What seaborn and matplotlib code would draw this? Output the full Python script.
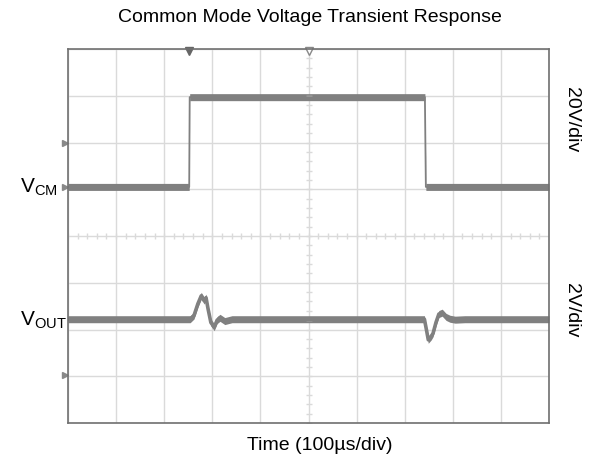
import numpy as np
import pandas as pd
import matplotlib
matplotlib.use("Agg")
import matplotlib.pyplot as plt
import seaborn as sns

# Scope screen in divisions: 10 across, 8 high
n_xdiv = 10
n_ydiv = 8

# Common mode input step (ch1, 20V/div)
vcm_time = [0.0, 2.52, 2.53, 7.42, 7.44, 10.0]
vcm_level = [5.05, 5.05, 6.97, 6.97, 5.05, 5.05]

# Output response (ch2, 2V/div)
vout_time = [0.0, 2.54, 2.62, 2.70, 2.77, 2.83, 2.87, 2.91, 2.97, 3.04, 3.10, 3.16,
             3.26, 3.41, 7.41, 7.46, 7.49, 7.55, 7.59, 7.65, 7.71, 7.78, 7.86,
             7.94, 8.05, 8.25, 10.0]
vout_level = [2.22, 2.22, 2.30, 2.55, 2.72, 2.62, 2.68, 2.45, 2.15, 2.05, 2.20, 2.25,
              2.18, 2.22, 2.22, 1.95, 1.78, 1.85, 1.92, 2.15, 2.33, 2.36, 2.27,
              2.23, 2.21, 2.22, 2.22]

trace_color = "#808080"
grid_color = "#dadada"
band = 0.075  # half thickness of the noisy trace, in divisions

sns.set_style("white")
plt.rcParams["font.family"] = ["Liberation Sans", "DejaVu Sans"]
plt.rcParams["text.color"] = "black"
plt.rcParams["mathtext.fontset"] = "custom"
plt.rcParams["mathtext.rm"] = "Liberation Sans"

fig = plt.figure(figsize=(5.93, 4.74), dpi=100)
ax = fig.add_axes([68 / 593, 1 - 423 / 474, 481 / 593, 374 / 474])

# graticule
ax.set_xlim(0, n_xdiv)
ax.set_ylim(0, n_ydiv)
ax.set_xticks(range(n_xdiv + 1))
ax.set_yticks(range(n_ydiv + 1))
ax.tick_params(length=0, labelbottom=False, labelleft=False)
ax.grid(True, color=grid_color, lw=1.0)
fine_x = np.arange(0, n_xdiv, 0.2)
fine_y = np.arange(0, n_ydiv, 0.2)
ax.plot(fine_x, np.full_like(fine_x, n_ydiv / 2), ls="none", marker="|",
        ms=5, color=grid_color, mew=1)
ax.plot(np.full_like(fine_y, n_xdiv / 2), fine_y, ls="none", marker="_",
        ms=5, color=grid_color, mew=1)
for s in ax.spines.values():
    s.set_color("#707070")
    s.set_linewidth(1.2)

# traces (noise band + centre line)
df_cm = pd.DataFrame({"t": vcm_time, "v": vcm_level})
df_out = pd.DataFrame({"t": vout_time, "v": vout_level})
for df, lw in ((df_cm, 1.3), (df_out, 2.6)):
    ax.fill_between(df["t"], df["v"] - band, df["v"] + band, color=trace_color, lw=0)
    sns.lineplot(data=df, x="t", y="v", ax=ax, color=trace_color, lw=lw,
                 sort=False, estimator=None)
ax.set_xlabel("")
ax.set_ylabel("")

# scope markers
ax.plot([vcm_time[1]], [n_ydiv - 0.05], marker="v", ms=6, color="#666666",
        clip_on=False, ls="none")
ax.plot([n_xdiv / 2], [n_ydiv - 0.05], marker="v", ms=6, mfc="white",
        mec="#888888", clip_on=False, ls="none")
ax.plot([-0.06, -0.06, -0.06], [6.0, vcm_level[0], 1.03], marker=">", ms=5,
        color="#888888", clip_on=False, ls="none")

# labels
fig.text(0.522, 1 - 18 / 474, "Common Mode Voltage Transient Response",
         ha="center", va="center", fontsize=14)
fig.text(0.540, 1 - 445 / 474, "Time (100µs/div)", ha="center", va="center",
         fontsize=14)
fig.text(20 / 593, 1 - 187 / 474, r"V$_{\mathrm{CM}}$", ha="left", va="center",
         fontsize=15)
fig.text(20 / 593, 1 - 320 / 474, r"V$_{\mathrm{OUT}}$", ha="left", va="center",
         fontsize=15)
fig.text(571 / 593, 1 - 120 / 474, "20V/div", ha="center", va="center",
         rotation=270, fontsize=14)
fig.text(571 / 593, 1 - 310 / 474, "2V/div", ha="center", va="center",
         rotation=270, fontsize=14)

fig.savefig("out.png", dpi=100)
